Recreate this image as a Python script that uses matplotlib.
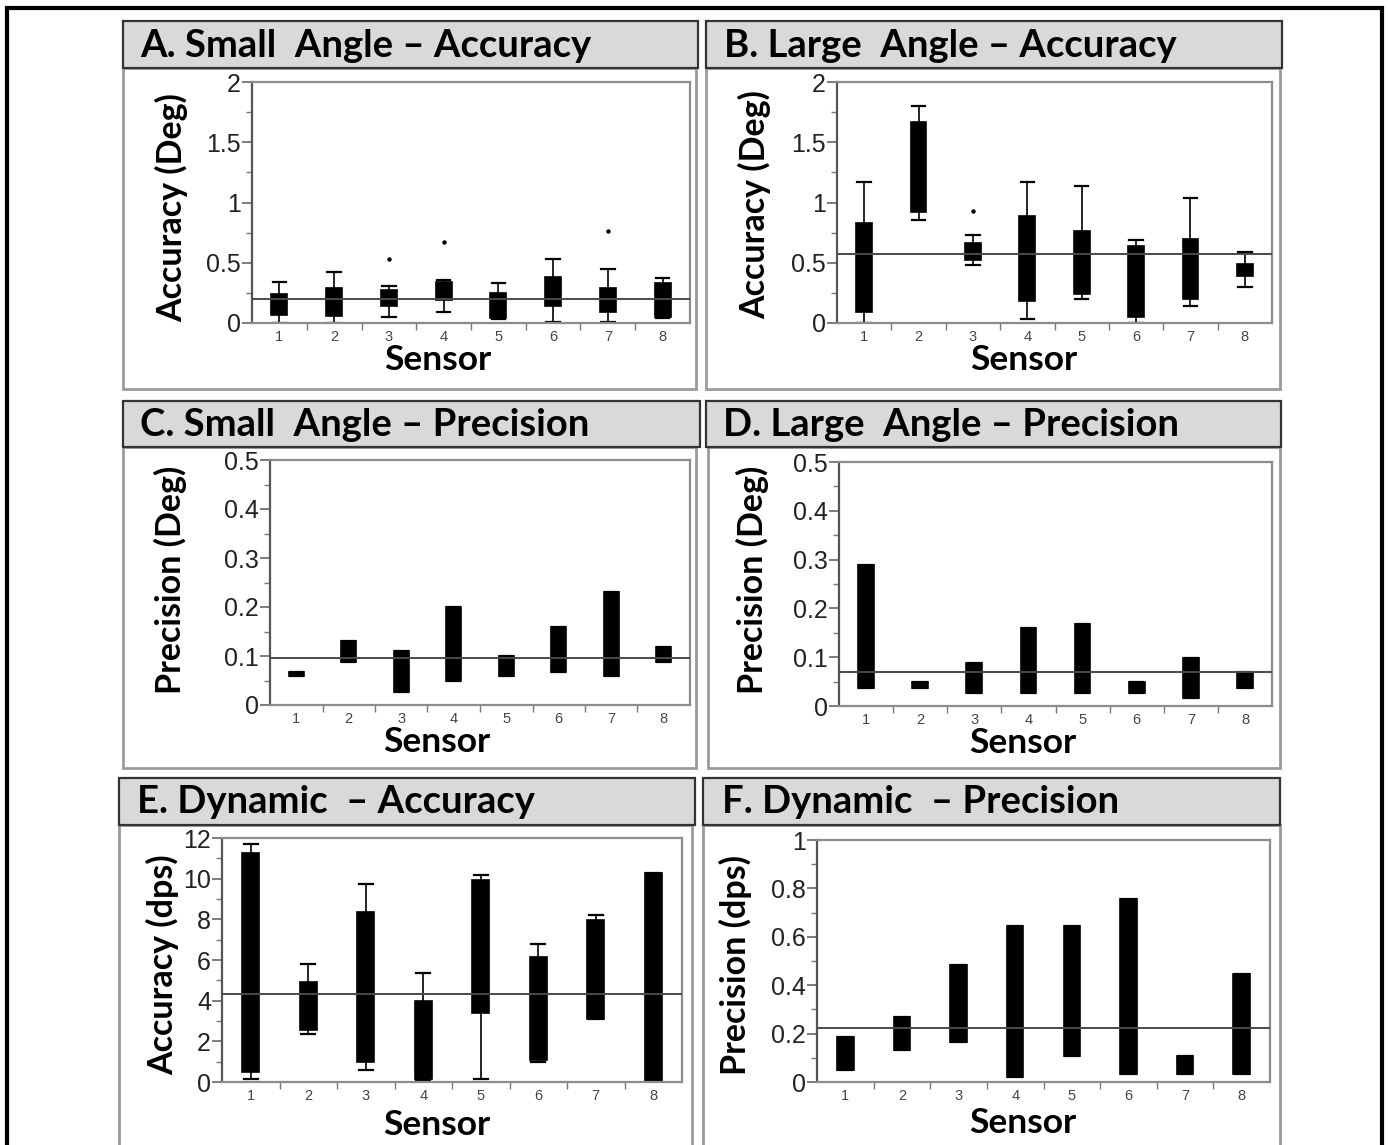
import matplotlib
matplotlib.use("Agg")
import matplotlib.pyplot as plt
from matplotlib.patches import Rectangle
from matplotlib.ticker import MultipleLocator, FixedLocator

# ---------------- data ----------------
sensors = [1, 2, 3, 4, 5, 6, 7, 8]

a_q1 = [0.07, 0.06, 0.14, 0.19, 0.04, 0.14, 0.09, 0.05]
a_q3 = [0.24, 0.29, 0.27, 0.34, 0.25, 0.38, 0.29, 0.33]
a_lo = [0.00, 0.00, 0.05, 0.09, 0.03, 0.01, 0.01, 0.04]
a_hi = [0.34, 0.42, 0.31, 0.36, 0.33, 0.53, 0.45, 0.37]
a_out = [[], [], [0.53], [0.67], [], [], [0.76], []]
a_mean = 0.20

b_q1 = [0.09, 0.92, 0.52, 0.18, 0.24, 0.05, 0.20, 0.39]
b_q3 = [0.83, 1.67, 0.66, 0.885, 0.76, 0.64, 0.70, 0.49]
b_lo = [0.00, 0.855, 0.48, 0.03, 0.20, 0.00, 0.14, 0.30]
b_hi = [1.17, 1.80, 0.73, 1.17, 1.14, 0.69, 1.04, 0.59]
b_out = [[], [], [0.93], [], [], [], [], []]
b_mean = 0.574

c_q1 = [0.060, 0.087, 0.027, 0.048, 0.060, 0.068, 0.060, 0.087]
c_q3 = [0.068, 0.130, 0.110, 0.200, 0.099, 0.160, 0.230, 0.118]
c_mean = 0.096

d_q1 = [0.036, 0.036, 0.027, 0.027, 0.027, 0.027, 0.017, 0.036]
d_q3 = [0.288, 0.049, 0.088, 0.160, 0.169, 0.049, 0.098, 0.070]
d_mean = 0.0705

e_q1 = [0.49, 2.54, 0.98, 0.13, 3.41, 1.07, 3.11, 0.03]
e_q3 = [11.26, 4.92, 8.36, 3.97, 9.92, 6.15, 7.95, 10.28]
e_lo = [0.16, 2.38, 0.57, 0.10, 0.13, 1.00, 3.10, 0.00]
e_hi = [11.72, 5.82, 9.72, 5.38, 10.16, 6.77, 8.23, 10.30]
e_mean = 4.34

f_q1 = [0.048, 0.134, 0.167, 0.020, 0.107, 0.034, 0.034, 0.034]
f_q3 = [0.184, 0.270, 0.485, 0.646, 0.646, 0.758, 0.107, 0.447]
f_mean = 0.225

titles = ["A. Small  Angle \u2013 Accuracy", "B. Large  Angle \u2013 Accuracy",
          "C. Small  Angle \u2013 Precision", "D. Large  Angle \u2013 Precision",
          "E. Dynamic  \u2013 Accuracy", "F. Dynamic  \u2013 Precision"]
ylabels = ["Accuracy (Deg)", "Accuracy (Deg)", "Precision (Deg)", "Precision (Deg)",
           "Accuracy (dps)", "Precision (dps)"]
xlabel = "Sensor"

a_ticks = [0, 0.5, 1, 1.5, 2]
a_ticklabels = ["0", "0.5", "1", "1.5", "2"]
c_ticks = [0, 0.1, 0.2, 0.3, 0.4, 0.5]
c_ticklabels = ["0", "0.1", "0.2", "0.3", "0.4", "0.5"]
e_ticks = [0, 2, 4, 6, 8, 10, 12]
e_ticklabels = ["0", "2", "4", "6", "8", "10", "12"]
f_ticks = [0, 0.2, 0.4, 0.6, 0.8, 1]
f_ticklabels = ["0", "0.2", "0.4", "0.6", "0.8", "1"]

# ---------------- layout ----------------
W, H = 1388, 1145
fig = plt.figure(figsize=(W / 100, H / 100), dpi=100)
fig.patch.set_facecolor("white")

LABEL_FONT = ["Lato", "DejaVu Sans"]
TICK_FONT = ["Liberation Sans Narrow", "Liberation Sans", "DejaVu Sans"]


def fx(x):
    return x / W


def fy(y):
    return 1 - y / H


def frect(x0, y0, x1, y1, **kw):
    r = Rectangle((fx(x0), fy(y1)), fx(x1) - fx(x0), fy(y0) - fy(y1),
                  transform=fig.transFigure, **kw)
    fig.add_artist(r)
    return r


# outer frame
frect(7, 8, 1382, 1160, fill=False, edgecolor="black", lw=3)

panels = [
    dict(head=(123, 21, 698, 68), frame=(123, 68, 696, 389), ax=(252, 82, 690, 323),
         t=(140, 46), yl=(172, 208), xl=(438, 360)),
    dict(head=(706, 21, 1282, 68), frame=(706, 68, 1280, 389), ax=(837, 82, 1272, 323),
         t=(724, 46), yl=(755, 205), xl=(1024, 360)),
    dict(head=(123, 401, 700, 447), frame=(123, 447, 696, 768), ax=(270, 460, 690, 705),
         t=(140, 425), yl=(170, 580), xl=(437, 742)),
    dict(head=(706, 401, 1281, 447), frame=(708, 447, 1280, 768), ax=(839, 462, 1272, 706),
         t=(723, 425), yl=(752, 580), xl=(1023, 743)),
    dict(head=(119, 778, 695, 825), frame=(119, 825, 692, 1160), ax=(222, 838, 682, 1082),
         t=(137, 802), yl=(163, 965), xl=(437, 1125)),
    dict(head=(703, 778, 1280, 825), frame=(703, 825, 1280, 1160), ax=(817, 840, 1270, 1082),
         t=(722, 802), yl=(735, 965), xl=(1023, 1123)),
]

box_sets = [
    (a_q1, a_q3, a_lo, a_hi, a_out, a_mean, (0, 2), a_ticks, a_ticklabels, 0.25),
    (b_q1, b_q3, b_lo, b_hi, b_out, b_mean, (0, 2), a_ticks, a_ticklabels, 0.25),
    (c_q1, c_q3, c_q1, c_q3, None, c_mean, (0, 0.5), c_ticks, c_ticklabels, 0.05),
    (d_q1, d_q3, d_q1, d_q3, None, d_mean, (0, 0.5), c_ticks, c_ticklabels, 0.05),
    (e_q1, e_q3, e_lo, e_hi, None, e_mean, (0, 12), e_ticks, e_ticklabels, 1),
    (f_q1, f_q3, f_q1, f_q3, None, f_mean, (0, 1), f_ticks, f_ticklabels, 0.1),
]

for i, (p, bs) in enumerate(zip(panels, box_sets)):
    frect(*p["frame"], fill=False, edgecolor="#9a9a9a", lw=2)
    frect(*p["head"], facecolor="#d9d9d9", edgecolor="#333333", lw=1.6)
    fig.text(fx(p["t"][0]), fy(p["t"][1]), titles[i], fontsize=27.5, fontweight="bold",
             family=LABEL_FONT, ha="left", va="center", color="black")
    fig.text(fx(p["yl"][0]), fy(p["yl"][1]), ylabels[i], fontsize=24.5, fontweight="bold",
             family=LABEL_FONT, ha="center", va="center", rotation=90)
    fig.text(fx(p["xl"][0]), fy(p["xl"][1]), xlabel, fontsize=25.5, fontweight="bold",
             family=LABEL_FONT, ha="center", va="center")

    l, t, r, b = p["ax"]
    ax = fig.add_axes([fx(l), fy(b), fx(r) - fx(l), fy(t) - fy(b)])
    q1, q3, lo, hi, outs, mean, ylim, yt, ytl, minor = bs
    stats = []
    for k in range(len(sensors)):
        stats.append(dict(med=q1[k], q1=q1[k], q3=q3[k], whislo=lo[k], whishi=hi[k],
                          fliers=(outs[k] if outs else [])))
    ax.bxp(stats, positions=sensors, widths=0.29, capwidths=0.25, patch_artist=True,
           manage_ticks=False,
           boxprops=dict(facecolor="black", edgecolor="black", lw=1.2),
           whiskerprops=dict(color="black", lw=1.2),
           capprops=dict(color="black", lw=1.6),
           medianprops=dict(lw=0),
           flierprops=dict(marker="o", markersize=2.2, markerfacecolor="black",
                           markeredgecolor="black"))
    ax.axhline(mean, color="#4a4a4a", lw=1.4, zorder=3)

    ax.set_xlim(0.5, 8.5)
    ax.set_ylim(*ylim)
    ax.set_yticks(yt)
    ax.set_yticklabels(ytl, family=TICK_FONT, fontsize=18, color="#222222")
    ax.yaxis.set_minor_locator(MultipleLocator(minor))
    ax.set_xticks(sensors)
    ax.set_xticklabels([str(s) for s in sensors], family=TICK_FONT, fontsize=10.5,
                       color="#444444")
    ax.xaxis.set_minor_locator(FixedLocator([1.5, 2.5, 3.5, 4.5, 5.5, 6.5, 7.5]))
    ax.tick_params(axis="y", which="major", direction="out", length=7, width=1.2,
                   color="#666666", pad=1)
    ax.tick_params(axis="y", which="minor", direction="out", length=4, width=1.0,
                   color="#777777")
    ax.tick_params(axis="x", which="major", length=0, pad=5)
    ax.tick_params(axis="x", which="minor", direction="out", length=5, width=1.0,
                   color="#777777")
    for side in ["top", "right", "bottom"]:
        ax.spines[side].set_color("#8c8c8c")
        ax.spines[side].set_linewidth(1.6)
    ax.spines["left"].set_color("#555555")
    ax.spines["left"].set_linewidth(1.6)
    ax.set_facecolor("white")

fig.savefig("out.png", dpi=100)
